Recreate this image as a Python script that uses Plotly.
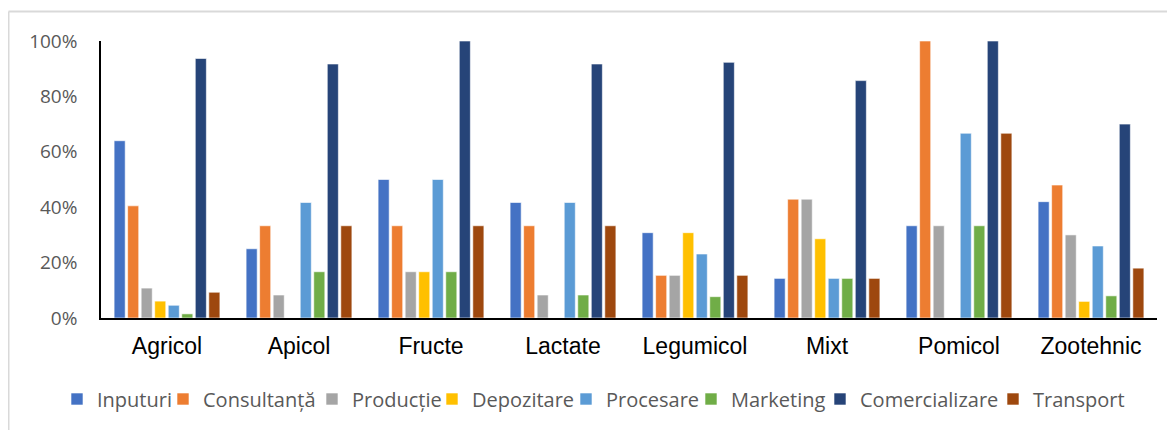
import plotly.graph_objects as go

categories = ["Agricol", "Apicol", "Fructe", "Lactate", "Legumicol", "Mixt", "Pomicol", "Zootehnic"]

inputuri       = [0.640, 0.250, 0.500, 0.417, 0.308, 0.143, 0.333, 0.420]
consultanta    = [0.405, 0.333, 0.333, 0.333, 0.154, 0.429, 1.000, 0.480]
productie      = [0.108, 0.083, 0.167, 0.083, 0.154, 0.429, 0.333, 0.300]
depozitare     = [0.061, 0.000, 0.167, 0.000, 0.308, 0.286, 0.000, 0.060]
procesare      = [0.046, 0.417, 0.500, 0.417, 0.231, 0.143, 0.667, 0.260]
marketing      = [0.015, 0.167, 0.167, 0.083, 0.077, 0.143, 0.333, 0.080]
comercializare = [0.937, 0.917, 1.000, 0.917, 0.923, 0.857, 1.000, 0.700]
transport      = [0.093, 0.333, 0.333, 0.333, 0.154, 0.143, 0.667, 0.180]

series_names = ["Inputuri", "Consultanță", "Producție", "Depozitare", "Procesare",
                "Marketing", "Comercializare", "Transport"]
series_values = [inputuri, consultanta, productie, depozitare, procesare,
                 marketing, comercializare, transport]
colors = ["#4472C4", "#ED7D31", "#A5A5A5", "#FFC000", "#5B9BD5",
          "#70AD47", "#264478", "#9E480E"]

# page-pixel x where each legend label text starts in the reference
legend_text_x = [97, 203, 352, 472, 606, 731, 860, 1033]

OFF = 8                      # default body margin of the page
PAGE_W, PAGE_H = 1175, 430
W, H = PAGE_W - OFF, PAGE_H - OFF
# plot area in page pixels: x 101..1157, y 41..318
L = 101 - OFF
T = 41 - OFF
R = W - (1157 - OFF)
B = H - (318 - OFF)
pw, ph = W - L - R, H - T - B


def px_x(p):  # page pixel -> paper x
    return (p - OFF - L) / pw


def px_y(p):  # page pixel -> paper y
    return (H - B - (p - OFF)) / ph


fig = go.Figure()
legend_layouts = {}
for i, (name, vals, col) in enumerate(zip(series_names, series_values, colors)):
    key = "legend" if i == 0 else f"legend{i + 1}"
    fig.add_trace(go.Bar(
        name=name, x=categories, y=vals, legend=key,
        marker=dict(color=col, line=dict(color="white", width=0.6)),
    ))
    legend_layouts[key] = dict(
        orientation="h", x=px_x(legend_text_x[i] - 40), xanchor="left",
        y=px_y(399), yanchor="middle",
        font=dict(family="Open Sans", size=20, color="#595959"),
        itemwidth=30, itemclick=False, itemdoubleclick=False,
        bgcolor="rgba(0,0,0,0)", borderwidth=0,
    )

fig.update_layout(
    width=W, height=H,
    margin=dict(l=L, r=R, t=T, b=B, autoexpand=False),
    paper_bgcolor="white", plot_bgcolor="white",
    barmode="group", bargap=0.18, bargroupgap=0.18,
    font=dict(family="Open Sans", color="#595959"),
    showlegend=True,
    xaxis=dict(
        showline=True, linecolor="black", linewidth=2, ticks="",
        tickfont=dict(family="Liberation Sans", size=23, color="black"),
        ticklabelstandoff=6, showgrid=False, zeroline=False,
        automargin=False,
    ),
    yaxis=dict(
        range=[0, 1], dtick=0.2, tickformat=".0%",
        showline=True, linecolor="black", linewidth=1.5, ticks="",
        tickfont=dict(family="Open Sans", size=19, color="#595959"),
        ticklabelstandoff=18, showgrid=False, zeroline=False,
        automargin=False,
    ),
    shapes=[
        dict(type="line", xref="paper", yref="paper",
             x0=px_x(8.5), x1=px_x(PAGE_W + 5), y0=px_y(11.5), y1=px_y(11.5),
             line=dict(color="#D9D9D9", width=2)),
        dict(type="line", xref="paper", yref="paper",
             x0=px_x(8.5), x1=px_x(8.5), y0=px_y(11.5), y1=px_y(PAGE_H + 5),
             line=dict(color="#D9D9D9", width=2)),
    ],
    **legend_layouts,
)

fig.write_html("out.html")
